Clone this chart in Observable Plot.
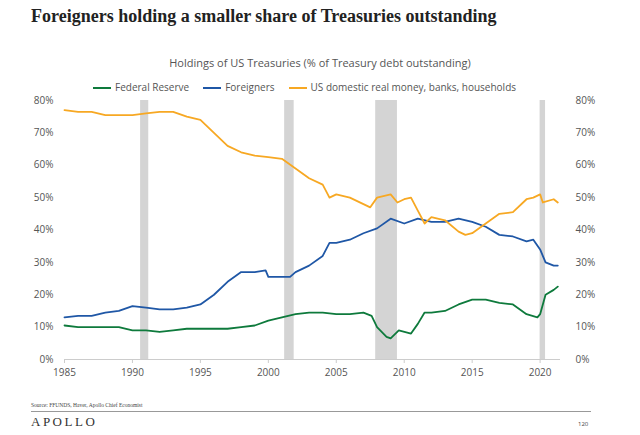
<!DOCTYPE html><html><head><meta charset="utf-8">
<script src="https://cdn.jsdelivr.net/npm/d3@7"></script>
<script src="https://cdn.jsdelivr.net/npm/@observablehq/plot@0.6"></script>
<style>
body{margin:0;width:640px;height:435px;position:relative;background:#fff;font-family:"Open Sans",sans-serif;overflow:hidden}
#t{position:absolute;left:31px;top:6px;font:bold 18px "Liberation Serif","DejaVu Serif",serif;color:#222}
#s{position:absolute;left:0;width:640px;top:55px;text-align:center;font-size:11px;color:#555}
#lg{position:absolute;left:93px;top:80px;font-size:10px;color:#555;display:flex;gap:14px}
#lg span i{display:inline-block;width:18px;height:2px;vertical-align:middle;margin-right:4px}
#c{position:absolute;left:0;top:92px}
#src{position:absolute;left:31px;top:402px;font:5.5px "Liberation Serif",serif;color:#444}
#ln{position:absolute;left:31px;top:411px;width:560px;border-top:1px solid #999}
#ap{position:absolute;left:31px;top:414px;font:13px "Liberation Serif",serif;letter-spacing:2.5px;color:#333}
#pg{position:absolute;left:578px;top:420px;font-size:6px;color:#444}
</style></head><body>
<div id="t">Foreigners holding a smaller share of Treasuries outstanding</div>
<div id="s">Holdings of US Treasuries (% of Treasury debt outstanding)</div>
<div id="lg"><span><i style="background:#0e7a3c"></i>Federal Reserve</span><span><i style="background:#1f57a6"></i>Foreigners</span><span><i style="background:#f7a823"></i>US domestic real money, banks, households</span></div>
<div id="c"></div>
<div id="src">Source: FFUNDS, Haver, Apollo Chief Economist</div>
<div id="ln"></div><div id="ap">APOLLO</div><div id="pg">120</div>
<script>
const yDomYears=[1985,1986,1987,1988,1989,1990,1991,1992,1993,1994,1995,1996,1997,1998,1999,2000,2001,2002,2003,2004,2004.5,2005,2006,2007,2007.5,2008,2009,2009.5,2010,2010.5,2011,2011.5,2012,2013,2014,2014.5,2015,2016,2017,2018,2019,2019.5,2020,2020.2,2021,2021.3];
const yDomVals=[77,76.5,76.5,75.5,75.5,75.5,76,76.5,76.5,75,74,70,66,64,63,62.5,62,59,56,54,50,51,50,48,47,50,51,48.5,49.5,50,46,42,44,43,39.5,38.5,39,42,45,45.5,49.5,50,51,48.5,49.5,48.5];
const forYears=[1985,1986,1987,1988,1989,1990,1991,1992,1993,1994,1995,1996,1997,1998,1999,1999.8,2000,2001,2001.6,2002,2003,2004,2004.5,2005,2006,2007,2008,2009,2010,2011,2012,2013,2014,2015,2016,2017,2018,2019,2019.5,2020,2020.4,2021,2021.3];
const forVals=[13,13.5,13.5,14.5,15,16.5,16,15.5,15.5,16,17,20,24,27,27,27.5,25.5,25.5,25.5,27,29,32,36,36,37,39,40.5,43.5,42,43.5,42.5,42.5,43.5,42.5,41,38.5,38,36.5,37,34,30,29,29];
const fedYears=[1985,1986,1987,1988,1989,1990,1991,1992,1993,1994,1995,1996,1997,1998,1999,2000,2001,2002,2003,2004,2005,2006,2007,2007.6,2008,2008.7,2009,2009.6,2010.5,2011,2011.5,2012,2013,2014,2015,2016,2017,2018,2019,2019.8,2020,2020.4,2021,2021.3];
const fedVals=[10.5,10,10,10,10,9,9,8.5,9,9.5,9.5,9.5,9.5,10,10.5,12,13,14,14.5,14.5,14,14,14.5,13.5,10,7,6.5,9,8,11,14.5,14.5,15,17,18.5,18.5,17.5,17,14,13,14,20,21.5,22.5];
const recStart=[1990.6,2001.2,2007.9,2020.0];
const recEnd=[1991.2,2001.9,2009.5,2020.4];
const yTicks=[0,10,20,30,40,50,60,70,80];
const xTicks=[1985,1990,1995,2000,2005,2010,2015,2020];
const ser=(ys,vs,n)=>ys.map((x,i)=>({x,v:vs[i],n}));
const data=[...ser(fedYears,fedVals,"Fed"),...ser(forYears,forVals,"For"),...ser(yDomYears,yDomVals,"Dom")];
const rec=recStart.map((s,i)=>({s,e:recEnd[i]}));
const fmt=d=>d+"%";
const p=Plot.plot({width:640,height:290,marginTop:8,marginBottom:23,marginLeft:64,marginRight:80,
 style:{fontFamily:"Open Sans, sans-serif",fontSize:"10px",color:"#555"},
 x:{domain:[1985,2021.5],ticks:xTicks,tickFormat:d=>String(d),tickSize:0,label:null},
 y:{domain:[0,80],ticks:yTicks,label:null},
 color:{domain:["Fed","For","Dom"],range:["#0e7a3c","#1f57a6","#f7a823"]},
 marks:[
  Plot.rectY(rec,{x1:"s",x2:"e",y1:0,y2:80,fill:"#d4d4d4"}),
  Plot.axisY({ticks:yTicks,tickFormat:fmt,tickSize:0,anchor:"left",dx:-2}),
  Plot.axisY({ticks:yTicks,tickFormat:fmt,tickSize:0,anchor:"right",dx:6,textAnchor:"start"}),
  Plot.axisX({ticks:xTicks,tickFormat:d=>String(d),tickSize:4,stroke:"#ccc",color:"#555"}),
  Plot.ruleY([0],{stroke:"#ccc"}),
  Plot.line(data,{x:"x",y:"v",z:"n",stroke:"n",strokeWidth:1.8})
 ]});
document.getElementById("c").appendChild(p);
</script></body></html>
